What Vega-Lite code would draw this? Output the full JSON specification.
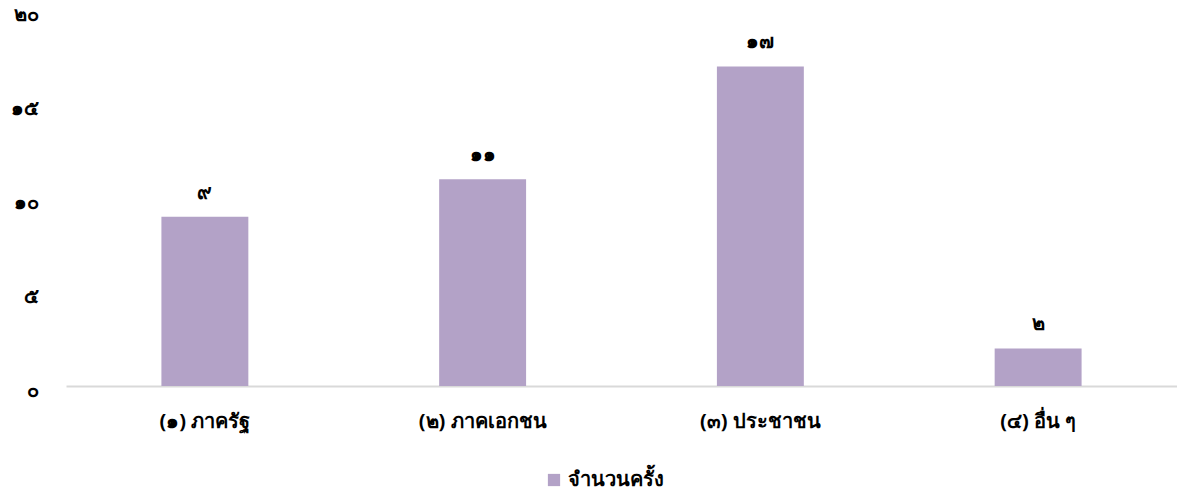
{
  "$schema": "https://vega.github.io/schema/vega-lite/v6.json",
  "autosize": "none",
  "width": 1111,
  "height": 376,
  "padding": {"left": 66, "top": 10, "right": 0, "bottom": 108},
  "background": "white",
  "config": {"view": {"stroke": null}, "font": "Noto Sans"},
  "data": {"values": [
    {"category": "(๑) ภาครัฐ", "value": 9, "label": "๙", "series": "จำนวนครั้ง"},
    {"category": "(๒) ภาคเอกชน", "value": 11, "label": "๑๑", "series": "จำนวนครั้ง"},
    {"category": "(๓) ประชาชน", "value": 17, "label": "๑๗", "series": "จำนวนครั้ง"},
    {"category": "(๔) อื่น ๆ", "value": 2, "label": "๒", "series": "จำนวนครั้ง"}
  ]},
  "encoding": {
    "x": {"field": "category", "type": "nominal", "sort": null,
      "scale": {"paddingInner": 0.687, "paddingOuter": 0.3435},
      "axis": {"title": null, "labelAngle": 0, "ticks": false, "domainColor": "#D9D9D9", "domainWidth": 2,
        "labelFontSize": 20, "labelFontWeight": "bold", "labelColor": "#000000", "labelPadding": 25}},
    "y": {"field": "value", "type": "quantitative",
      "scale": {"domain": [0, 20]},
      "axis": {"title": null, "values": [0, 5, 10, 15, 20], "grid": false, "domain": false, "ticks": false,
        "labelFontSize": 20, "labelFontWeight": "bold", "labelColor": "#000000", "labelPadding": 28, "labelOffset": 4,
        "labelExpr": "datum.value == 0 ? '๐' : datum.value == 5 ? '๕' : datum.value == 10 ? '๑๐' : datum.value == 15 ? '๑๕' : '๒๐'"}}
  },
  "layer": [
    {"mark": {"type": "bar"},
     "encoding": {"color": {"field": "series", "type": "nominal",
       "scale": {"range": ["#B3A2C7"]},
       "legend": {"title": null, "orient": "none", "legendX": 478, "legendY": 460, "symbolType": "square",
         "symbolSize": 150, "symbolStrokeWidth": 0, "labelFontSize": 20, "labelFontWeight": "bold", "labelColor": "#000000"}}}},
    {"mark": {"type": "text", "dy": -24, "fontSize": 20, "fontWeight": "bold", "color": "#000000", "baseline": "middle"},
     "encoding": {"text": {"field": "label"}}}
  ]
}
